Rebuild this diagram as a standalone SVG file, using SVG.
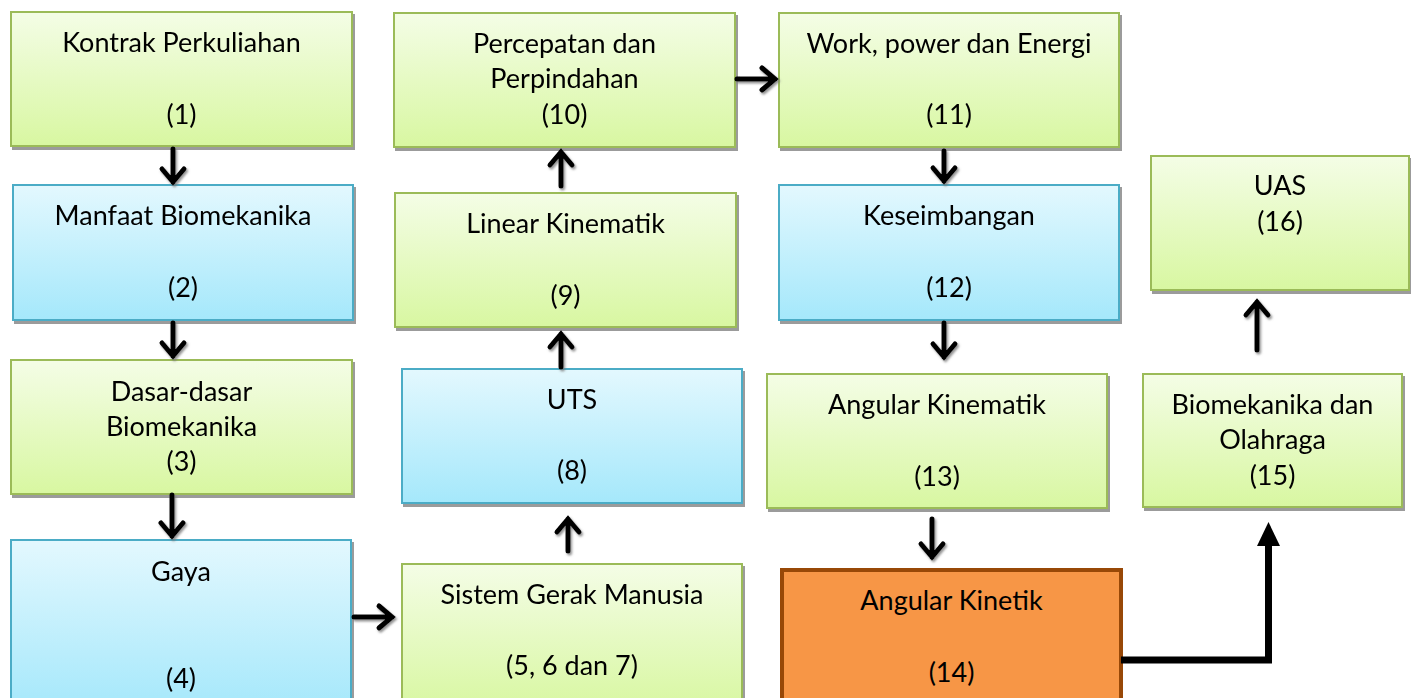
<svg xmlns="http://www.w3.org/2000/svg" width="1411" height="698" viewBox="0 0 1411 698">
<defs>
<linearGradient id="gG" x1="0" y1="0" x2="0" y2="1"><stop offset="0" stop-color="#F4FDE6"/><stop offset="1" stop-color="#D8F7A1"/></linearGradient>
<linearGradient id="gB" x1="0" y1="0" x2="0" y2="1"><stop offset="0" stop-color="#E3F8FE"/><stop offset="1" stop-color="#A5E8FB"/></linearGradient>
<filter id="sh" x="-5%" y="-5%" width="110%" height="115%"><feDropShadow dx="2" dy="3" stdDeviation="0.6" flood-color="#8a8a8a" flood-opacity="0.85"/></filter>
<filter id="ash" x="-50%" y="-50%" width="200%" height="200%"><feDropShadow dx="1.5" dy="2" stdDeviation="0.8" flood-color="#777" flood-opacity="0.8"/></filter>
</defs>
<style>
.g{fill:url(#gG);stroke:#9BBB59;stroke-width:2}
.b{fill:url(#gB);stroke:#4BACC6;stroke-width:2}
.o{fill:#F79646;stroke:#984807;stroke-width:4}
.n{filter:url(#sh)}
text{font-family:Lato,"Liberation Sans",sans-serif;font-size:27px;fill:#000;text-anchor:middle}
.a{fill:none;stroke:#000;stroke-width:5;stroke-linecap:round;stroke-linejoin:miter}
#connectors .a{filter:url(#ash)}
.e{fill:none;stroke:#000;stroke-width:7}
</style>
<rect width="1411" height="698" fill="#fff"/>

<g id="n1" class="n"><rect class="g" x="11" y="12" width="341" height="134"/><text x="181.5" y="52">Kontrak Perkuliahan</text><text x="181.5" y="124">(1)</text></g>
<g id="n2" class="n"><rect class="b" x="13" y="185" width="340" height="135"/><text x="183" y="225">Manfaat Biomekanika</text><text x="183" y="297">(2)</text></g>
<g id="n3" class="n"><rect class="g" x="11" y="360" width="341" height="134"/><text x="181.5" y="401">Dasar-dasar</text><text x="181.5" y="436">Biomekanika</text><text x="181.5" y="471">(3)</text></g>
<g id="n4" class="n"><rect class="b" x="11" y="540" width="340" height="170"/><text x="181" y="581">Gaya</text><text x="181" y="688">(4)</text></g>
<g id="n5" class="n"><rect class="g" x="402" y="564" width="340" height="146"/><text x="572" y="604">Sistem Gerak Manusia</text><text x="572" y="675">(5, 6 dan 7)</text></g>
<g id="n8" class="n"><rect class="b" x="402" y="369" width="340" height="134"/><text x="572" y="409">UTS</text><text x="572" y="480">(8)</text></g>
<g id="n9" class="n"><rect class="g" x="395" y="193" width="341" height="134"/><text x="565.5" y="233">Linear Kinematik</text><text x="565.5" y="305">(9)</text></g>
<g id="n10" class="n"><rect class="g" x="394" y="13" width="341" height="134"/><text x="564.5" y="53">Percepatan dan</text><text x="564.5" y="88">Perpindahan</text><text x="564.5" y="124">(10)</text></g>
<g id="n11" class="n"><rect class="g" x="779" y="13" width="340" height="134"/><text x="949" y="53">Work, power dan Energi</text><text x="949" y="124">(11)</text></g>
<g id="n12" class="n"><rect class="b" x="779" y="185" width="340" height="135"/><text x="949" y="225">Keseimbangan</text><text x="949" y="297">(12)</text></g>
<g id="n13" class="n"><rect class="g" x="767" y="374" width="340" height="134"/><text x="937" y="414">Angular Kinematik</text><text x="937" y="486">(13)</text></g>
<g id="n14"><rect class="o" x="782" y="570" width="339" height="140"/><text x="951.5" y="610">Angular Kinetik</text><text x="951.5" y="682">(14)</text></g>
<g id="n15" class="n"><rect class="g" x="1143" y="374" width="259" height="133"/><text x="1272.5" y="414">Biomekanika dan</text><text x="1272.5" y="449">Olahraga</text><text x="1272.5" y="485">(15)</text></g>
<g id="n16" class="n"><rect class="g" x="1151" y="156" width="258" height="134"/><text x="1280" y="195">UAS</text><text x="1280" y="231">(16)</text></g>

<g id="connectors">
<path class="a" d="M173,149V182M162,169L173,182L184,169"/>
<path class="a" d="M173,323V356M162,343L173,356L184,343"/>
<path class="a" d="M172,495V536M161,523L172,536L183,523"/>
<path class="a" d="M354,617H392M379,606L392,617L379,628"/>
<path class="a" d="M568,551V519M557,532L568,519L579,532"/>
<path class="a" d="M561,367V334M550,347L561,334L572,347"/>
<path class="a" d="M561,186V152M550,165L561,152L572,165"/>
<path class="a" d="M737,79H775M762,68L775,79L762,90"/>
<path class="a" d="M944,151V181M933,168L944,181L955,168"/>
<path class="a" d="M944,323V357M933,344L944,357L955,344"/>
<path class="a" d="M932,519V557M921,544L932,557L943,544"/>
<path class="a" d="M1257,350V302M1246,315L1257,302L1268,315"/>
<path class="e" d="M1121,660H1268.5V545"/>
<polygon points="1257,546 1280,546 1268.5,522" fill="#000"/>
</g>
</svg>
